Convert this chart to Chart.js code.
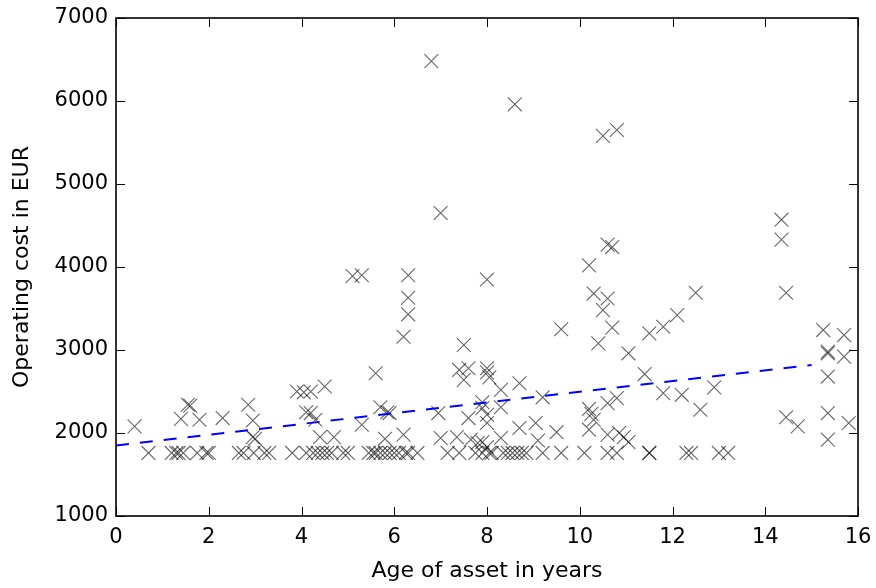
<!DOCTYPE html>
<html>
<head>
<meta charset="utf-8">
<script src="https://cdn.jsdelivr.net/npm/chart.js@4.4.1/dist/chart.umd.min.js"></script>
<style>
  html, body { margin: 0; padding: 0; background: #fff; }
  #wrap { width: 876px; height: 588px; }
</style>
</head>
<body>
<div id="wrap"><canvas id="c" width="876" height="588"></canvas></div>
<script>
// Age of asset (years)
const ages = [
  0.4, 0.7, 1.2, 1.3, 1.35, 1.45, 1.4, 1.55, 1.6, 1.8, 1.75, 1.95, 2.0, 2.3, 2.65, 2.75,
  2.85, 2.95, 2.95, 3.0, 2.97, 3.2, 3.3, 3.8, 3.9, 4.05, 4.2, 4.1, 4.2, 4.3, 4.5,
  4.1, 4.25, 4.35, 4.45, 4.55, 4.65, 4.9, 5.0, 4.4, 4.7,
  5.1, 5.3, 5.3, 5.6, 5.7, 5.85, 5.9, 5.8, 6.2,
  5.45, 5.55, 5.6, 5.7, 5.8, 5.9, 6.0, 6.1, 6.25, 6.3, 6.5,
  6.2, 6.3, 6.3, 6.3, 6.8, 7.0, 6.95, 7.0,
  7.15, 7.4, 7.75, 7.9, 8.05, 8.1, 8.35, 8.45, 8.55, 8.65, 8.75, 8.85,
  7.35, 7.5, 7.4, 7.6, 7.5, 7.6, 7.65, 7.8, 7.9, 8.0, 7.9, 7.9,
  8.0, 8.0, 8.05, 8.0, 8.0, 8.0, 8.3, 8.3, 8.3, 8.6, 8.7, 8.7, 9.05, 9.1, 9.2, 9.2,
  9.5, 9.6, 9.6, 10.1, 10.2, 10.2, 10.2, 10.25, 10.3, 10.3, 10.4, 10.5, 10.8, 10.5, 10.6,
  10.6, 10.7, 10.6, 10.8, 10.6, 10.85, 10.95, 11.05, 10.6, 10.8, 10.7, 11.05, 11.4, 11.5,
  11.5, 11.5, 11.8, 11.8, 12.1, 12.2, 12.3, 12.4, 12.5, 12.6, 12.9, 13.0, 13.2,
  14.35, 14.35, 14.45, 14.45, 14.7, 15.25, 15.35, 15.35, 15.35, 15.35, 15.35, 15.7, 15.7, 15.8
];
// Operating cost (EUR)
const costs = [
  2080, 1760, 1760, 1760, 1760, 1760, 2170, 2340, 2330, 2160, 1760, 1760, 1760, 2180, 1760, 1760,
  2340, 2150, 1950, 1930, 1760, 1760, 1760, 1760, 2500, 2490, 2500, 2250, 2240, 2160, 2560,
  1760, 1760, 1760, 1760, 1760, 1760, 1760, 1760, 1950, 1950,
  3890, 3900, 2100, 2720, 2310, 2250, 2240, 1930, 1980,
  1760, 1760, 1760, 1760, 1760, 1760, 1760, 1760, 1760, 1760, 1760,
  3160, 3900, 3630, 3430, 6480, 4650, 2240, 1940,
  1760, 1760, 1760, 1760, 1760, 1760, 1760, 1760, 1760, 1760, 1760, 1760,
  1950, 3060, 2760, 2780, 2640, 2180, 1920, 1880, 1890, 1830, 2370, 2300,
  2780, 2730, 2670, 2220, 2120, 3850, 2520, 2310, 1940, 5960, 2600, 2060, 2120, 1910, 2430, 1760,
  2010, 3250, 1760, 1760, 4020, 2040, 2290, 2230, 2160, 3680, 3080, 5580, 5650, 3480, 3620,
  4270, 4240, 2360, 2420, 1980, 2000, 1950, 1890, 1760, 1760, 3270, 2960, 2710, 3200,
  1760, 1760, 3280, 2480, 3420, 2460, 1760, 1760, 3690, 2280, 2550, 1760, 1760,
  4570, 4330, 3690, 2190, 2080, 3240, 2980, 2960, 2680, 2240, 1920, 3180, 2920, 2120
];
// Fitted trend line end points
const fitX = [0, 15];
const fitY = [1850, 2820];

const xTicks = [0, 2, 4, 6, 8, 10, 12, 14, 16];
const yTicks = [1000, 2000, 3000, 4000, 5000, 6000, 7000];

const scatterData = ages.map((a, i) => ({ x: a, y: costs[i] }));
const fitData = fitX.map((a, i) => ({ x: a, y: fitY[i] }));

const FONT = 'DejaVu Sans';
const FS = 21;
const TFS = 22;

const framePlugin = {
  id: 'frame',
  afterDatasetsDraw(chart) {
    const { ctx, chartArea: a, scales } = chart;
    const tl = 9;
    ctx.save();
    ctx.strokeStyle = '#000';
    ctx.lineWidth = 1;
    ctx.beginPath();
    scales.x.ticks.forEach(t => {
      const px = Math.round(scales.x.getPixelForValue(t.value)) + 0.5;
      ctx.moveTo(px, a.bottom); ctx.lineTo(px, a.bottom - tl);
      ctx.moveTo(px, a.top); ctx.lineTo(px, a.top + tl);
    });
    scales.y.ticks.forEach(t => {
      const py = Math.round(scales.y.getPixelForValue(t.value)) + 0.5;
      ctx.moveTo(a.left, py); ctx.lineTo(a.left + tl, py);
      ctx.moveTo(a.right, py); ctx.lineTo(a.right - tl, py);
    });
    ctx.stroke();
    ctx.lineWidth = 1.6;
    ctx.strokeRect(a.left, a.top, a.right - a.left, a.bottom - a.top);
    ctx.restore();
  }
};

new Chart(document.getElementById('c'), {
  type: 'scatter',
  data: {
    datasets: [
      {
        label: 'Assets',
        data: scatterData,
        pointStyle: 'crossRot',
        pointRadius: 9.8,
        pointHoverRadius: 9.8,
        borderColor: 'rgba(0,0,0,0.6)',
        backgroundColor: 'rgba(0,0,0,0)',
        pointBorderWidth: 1.1,
        borderWidth: 1.1,
        showLine: false,
        order: 2
      },
      {
        type: 'line',
        label: 'Trend',
        data: fitData,
        borderColor: '#0000ff',
        borderWidth: 2,
        borderDash: [13, 11],
        pointRadius: 0,
        fill: false,
        tension: 0,
        order: 1
      }
    ]
  },
  options: {
    responsive: false,
    animation: false,
    devicePixelRatio: 1,
    layout: { padding: { top: 18, right: 18, left: 0, bottom: 0 } },
    plugins: {
      legend: { display: false },
      tooltip: { enabled: false }
    },
    scales: {
      x: {
        type: 'linear',
        min: 0, max: 16,
        afterBuildTicks: s => { s.ticks = xTicks.map(v => ({ value: v })); },
        afterFit: s => { s.height = 72; s.paddingLeft = 0; s.paddingRight = 0; },
        grid: { display: false, drawTicks: false },
        border: { display: false },
        ticks: {
          color: '#000',
          padding: 11,
          maxRotation: 0,
          autoSkip: false,
          callback: v => String(v),
          font: { family: FONT, size: FS, lineHeight: 1 }
        },
        title: {
          display: true,
          text: 'Age of asset in years',
          color: '#000',
          font: { family: FONT, size: TFS, lineHeight: 1 },
          padding: { top: 0, bottom: 6 }
        }
      },
      y: {
        type: 'linear',
        min: 1000, max: 7000,
        afterBuildTicks: s => { s.ticks = yTicks.map(v => ({ value: v })); },
        afterFit: s => { s.width = 116; s.paddingTop = 0; s.paddingBottom = 0; },
        grid: { display: false, drawTicks: false },
        border: { display: false },
        ticks: {
          color: '#000',
          padding: 8,
          autoSkip: false,
          callback: v => String(v),
          font: { family: FONT, size: FS, lineHeight: 1 }
        },
        title: {
          display: true,
          text: 'Operating cost in EUR',
          color: '#000',
          font: { family: FONT, size: TFS, lineHeight: 1 },
          padding: { top: 11, bottom: 0 }
        }
      }
    }
  },
  plugins: [framePlugin]
});
</script>
</body>
</html>
